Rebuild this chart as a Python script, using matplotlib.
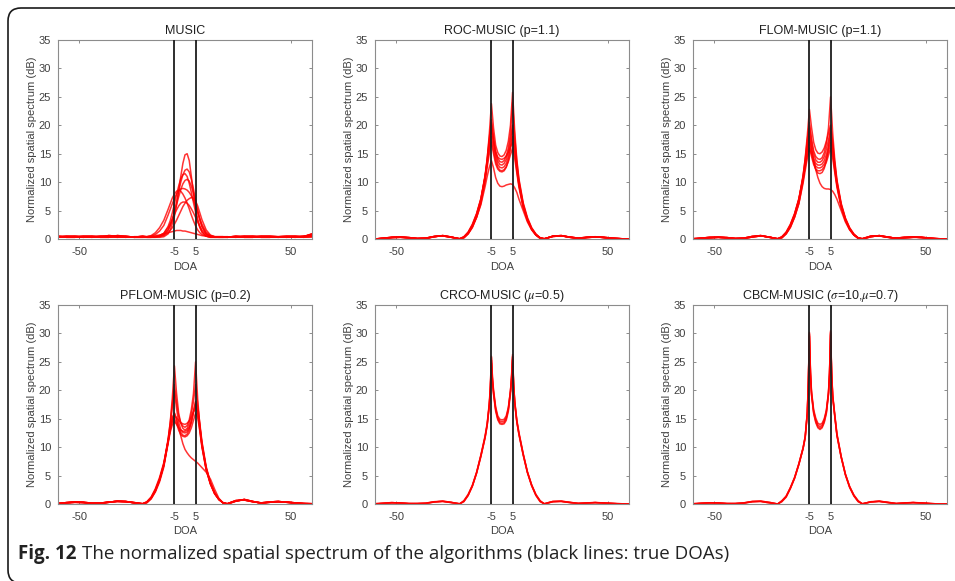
import matplotlib.pyplot as plt
from matplotlib.patches import FancyBboxPatch

# DOA grids (degrees)
doa_left = [-60, -56, -52, -48, -44, -40, -36, -32, -28, -24, -20]
doa_right = [20, 24, 28, 32, 36, 40, 44, 48, 52, 56, 60]
doa_mid = [-18, -16, -14, -12, -10, -8, -7, -6, -5, -4, -3, -2, -1, 0,
           1, 2, 3, 4, 5, 6, 7, 8, 10, 12, 14, 16, 18]
doa_mid_fine = [-18, -16, -14, -12, -10, -8, -7, -6, -5.5, -5, -4.5, -4, -3, -2, -1, 0,
                1, 2, 3, 4, 4.5, 5, 5.5, 6, 7, 8, 10, 12, 14, 16, 18]
true_doa = [-5, 5]

# MUSIC
music_left = [[0.4, 0.5, 0.4, 0.3, 0.4, 0.5, 0.4, 0.3, 0.4, 0.3, 0.3],
              [0.3, 0.4, 0.5, 0.4, 0.3, 0.4, 0.6, 0.5, 0.3, 0.4, 0.4],
              [0.5, 0.3, 0.3, 0.5, 0.5, 0.3, 0.3, 0.6, 0.5, 0.3, 0.5]]
music_right = [[0.3, 0.4, 0.5, 0.4, 0.3, 0.3, 0.4, 0.3, 0.4, 0.5, 0.7],
               [0.4, 0.3, 0.4, 0.5, 0.4, 0.4, 0.3, 0.4, 0.3, 0.4, 0.9],
               [0.3, 0.5, 0.3, 0.3, 0.5, 0.5, 0.4, 0.5, 0.5, 0.3, 0.4]]
music_mid = [
    [0.3, 0.3, 0.3, 0.3, 0.4, 0.9, 1.6, 2.7, 4.0, 6.0, 8.5, 11.0, 13.3, 14.8, 15.0, 13.8, 11.0, 8.0, 5.3, 3.5, 2.2, 1.3, 0.5, 0.3, 0.3, 0.3, 0.3],
    [0.4, 0.4, 0.4, 0.5, 0.7, 1.5, 2.3, 3.4, 4.8, 6.5, 8.3, 10.0, 11.3, 12.1, 12.3, 11.8, 10.5, 8.8, 6.8, 5.0, 3.4, 2.2, 0.9, 0.5, 0.4, 0.4, 0.4],
    [0.3, 0.3, 0.4, 0.6, 1.0, 2.2, 3.2, 4.6, 6.2, 7.8, 9.3, 10.6, 11.3, 11.5, 11.0, 9.8, 8.2, 6.4, 4.7, 3.2, 2.0, 1.2, 0.5, 0.3, 0.3, 0.3, 0.3],
    [0.4, 0.4, 0.4, 0.5, 0.8, 1.6, 2.4, 3.4, 4.6, 6.0, 7.4, 8.7, 9.7, 10.3, 10.5, 10.2, 9.3, 8.0, 6.4, 4.8, 3.4, 2.2, 0.9, 0.5, 0.4, 0.4, 0.4],
    [0.4, 0.5, 0.8, 1.4, 2.4, 4.2, 5.2, 6.2, 7.1, 7.9, 8.5, 8.8, 8.9, 8.8, 8.6, 8.2, 7.6, 6.8, 5.8, 4.7, 3.6, 2.6, 1.2, 0.6, 0.4, 0.4, 0.4],
    [0.4, 0.6, 1.1, 2.0, 3.3, 5.2, 6.2, 7.2, 7.9, 8.4, 8.6, 8.4, 7.9, 7.2, 6.3, 5.3, 4.2, 3.2, 2.3, 1.6, 1.1, 0.8, 0.5, 0.4, 0.4, 0.4, 0.4],
    [0.3, 0.3, 0.3, 0.4, 0.6, 1.1, 1.5, 2.0, 2.6, 3.3, 4.1, 4.9, 5.7, 6.3, 6.8, 7.1, 7.3, 7.2, 6.7, 5.8, 4.6, 3.4, 1.6, 0.7, 0.4, 0.3, 0.3],
    [0.3, 0.3, 0.4, 0.6, 1.0, 2.0, 2.7, 3.5, 4.3, 5.1, 5.8, 6.3, 6.5, 6.5, 6.3, 5.9, 5.3, 4.6, 3.8, 3.0, 2.2, 1.6, 0.8, 0.4, 0.3, 0.3, 0.3],
    [0.4, 0.5, 0.6, 0.7, 0.9, 1.1, 1.2, 1.3, 1.4, 1.5, 1.5, 1.5, 1.4, 1.4, 1.3, 1.2, 1.1, 1.0, 0.9, 0.8, 0.7, 0.6, 0.5, 0.4, 0.4, 0.4, 0.4],
]

# ROC-MUSIC
roc_left = [[0.0, 0.1, 0.25, 0.3, 0.2, 0.05, 0.1, 0.4, 0.6, 0.35, 0.0],
            [0.0, 0.15, 0.3, 0.35, 0.25, 0.1, 0.15, 0.45, 0.55, 0.3, 0.05]]
roc_right = [[0.0, 0.5, 0.6, 0.3, 0.1, 0.25, 0.35, 0.3, 0.15, 0.05, 0.0],
             [0.05, 0.45, 0.55, 0.35, 0.15, 0.3, 0.4, 0.25, 0.1, 0.05, 0.0]]
roc_mid = [
    [0.3, 1.0, 2.2, 4.0, 6.6, 10.8, 14.0, 18.5, 23.8, 19.5, 16.5, 15.2, 14.6, 14.5, 14.8, 15.6, 17.2, 20.0, 25.8, 19.0, 14.0, 10.6, 6.4, 3.8, 2.0, 0.9, 0.2],
    [0.4, 1.2, 2.5, 4.4, 7.0, 11.2, 14.2, 17.8, 21.0, 18.0, 15.5, 14.2, 13.6, 13.5, 13.8, 14.6, 16.0, 18.5, 24.0, 18.0, 13.6, 10.3, 6.2, 3.6, 1.9, 0.8, 0.2],
    [0.3, 1.0, 2.3, 4.2, 6.8, 11.0, 13.8, 17.2, 20.5, 17.4, 15.0, 13.7, 13.1, 13.0, 13.3, 14.0, 15.3, 17.4, 20.0, 16.8, 13.0, 10.0, 6.0, 3.5, 1.8, 0.8, 0.2],
    [0.2, 0.9, 2.1, 3.9, 6.4, 10.5, 13.4, 16.8, 20.0, 16.8, 14.4, 13.1, 12.6, 12.5, 12.7, 13.3, 14.5, 16.2, 18.0, 15.6, 12.4, 9.6, 5.8, 3.3, 1.7, 0.7, 0.1],
    [0.3, 1.1, 2.4, 4.3, 6.9, 10.9, 13.6, 16.7, 19.5, 17.0, 15.2, 14.4, 14.1, 14.0, 14.2, 14.6, 15.3, 16.2, 17.0, 15.0, 12.0, 9.4, 5.7, 3.4, 1.8, 0.8, 0.2],
    [0.4, 1.2, 2.6, 4.5, 7.1, 10.9, 13.2, 15.8, 18.0, 15.6, 13.7, 12.6, 12.1, 12.0, 12.2, 12.7, 13.6, 14.8, 16.0, 14.2, 11.6, 9.1, 5.5, 3.2, 1.7, 0.7, 0.2],
    [0.2, 0.9, 2.0, 3.8, 6.2, 10.0, 12.6, 15.0, 17.0, 15.0, 13.2, 12.3, 11.9, 11.8, 12.0, 12.6, 13.8, 15.8, 20.0, 16.4, 12.8, 9.8, 5.9, 3.4, 1.8, 0.7, 0.1],
    [0.3, 1.0, 2.2, 3.8, 6.0, 9.2, 11.0, 12.6, 13.8, 12.5, 10.8, 9.8, 9.3, 9.2, 9.3, 9.5, 9.6, 9.7, 9.6, 9.0, 8.2, 7.0, 5.0, 3.0, 1.6, 0.7, 0.2],
]

# FLOM-MUSIC
flom_left = [[0.0, 0.1, 0.2, 0.3, 0.25, 0.1, 0.1, 0.35, 0.55, 0.35, 0.0],
             [0.05, 0.15, 0.3, 0.3, 0.2, 0.05, 0.15, 0.45, 0.6, 0.3, 0.05]]
flom_right = [[0.0, 0.4, 0.6, 0.35, 0.1, 0.2, 0.3, 0.3, 0.15, 0.05, 0.0],
              [0.05, 0.5, 0.55, 0.3, 0.15, 0.3, 0.35, 0.25, 0.1, 0.0, 0.0]]
flom_mid = [
    [0.3, 1.0, 2.3, 4.2, 6.8, 11.0, 14.2, 18.2, 22.8, 19.6, 17.0, 15.7, 15.1, 15.0, 15.3, 16.0, 17.2, 18.6, 20.0, 17.0, 13.4, 10.2, 6.1, 3.6, 1.9, 0.8, 0.2],
    [0.4, 1.2, 2.5, 4.4, 7.0, 11.2, 14.0, 17.5, 20.5, 17.6, 15.5, 14.5, 14.1, 14.0, 14.3, 15.2, 16.8, 19.5, 25.0, 18.6, 13.8, 10.4, 6.3, 3.7, 2.0, 0.9, 0.2],
    [0.3, 1.0, 2.3, 4.2, 6.8, 10.9, 13.7, 17.0, 20.0, 17.2, 15.0, 13.9, 13.5, 13.5, 13.8, 14.5, 15.8, 17.4, 19.0, 16.2, 12.8, 9.9, 6.0, 3.5, 1.8, 0.8, 0.2],
    [0.2, 0.9, 2.1, 3.9, 6.4, 10.4, 13.0, 15.8, 18.0, 15.9, 14.2, 13.3, 13.0, 13.0, 13.2, 13.8, 14.8, 16.3, 18.0, 15.6, 12.4, 9.6, 5.8, 3.3, 1.7, 0.7, 0.1],
    [0.3, 1.1, 2.4, 4.3, 6.9, 10.7, 13.1, 15.4, 17.0, 15.2, 13.7, 12.8, 12.5, 12.5, 12.7, 13.2, 14.1, 15.4, 17.0, 15.0, 12.0, 9.4, 5.7, 3.4, 1.8, 0.8, 0.2],
    [0.4, 1.2, 2.6, 4.5, 7.1, 10.6, 12.6, 14.6, 16.0, 14.5, 13.1, 12.3, 12.0, 12.0, 12.2, 12.7, 13.5, 14.7, 16.0, 14.2, 11.6, 9.1, 5.5, 3.2, 1.7, 0.7, 0.2],
    [0.2, 0.9, 2.0, 3.8, 6.2, 10.2, 13.0, 16.0, 19.0, 16.0, 13.6, 12.2, 11.6, 11.5, 11.7, 12.4, 13.8, 16.0, 20.0, 16.4, 12.8, 9.8, 5.9, 3.4, 1.8, 0.7, 0.1],
    [0.3, 1.0, 2.2, 3.9, 6.2, 9.8, 12.0, 14.2, 16.0, 15.0, 13.6, 12.2, 10.8, 9.8, 9.2, 8.9, 8.8, 8.8, 8.7, 8.4, 7.8, 7.0, 5.0, 3.0, 1.6, 0.7, 0.2],
]

# PFLOM-MUSIC
pflom_left = [[0.1, 0.2, 0.3, 0.25, 0.1, 0.1, 0.3, 0.5, 0.45, 0.2, 0.0],
              [0.05, 0.25, 0.35, 0.3, 0.15, 0.15, 0.35, 0.45, 0.4, 0.25, 0.05]]
pflom_right = [[0.0, 0.5, 0.8, 0.45, 0.15, 0.3, 0.4, 0.35, 0.2, 0.1, 0.05],
               [0.05, 0.6, 0.7, 0.4, 0.2, 0.35, 0.45, 0.3, 0.15, 0.05, 0.0]]
pflom_mid = [
    [0.3, 1.0, 2.3, 4.2, 6.9, 11.2, 14.3, 18.6, 24.3, 19.5, 16.0, 14.2, 13.3, 13.0, 13.3, 14.2, 15.8, 18.0, 21.0, 17.6, 13.6, 10.4, 6.2, 3.7, 1.9, 0.8, 0.2],
    [0.4, 1.2, 2.5, 4.4, 7.1, 11.4, 14.2, 17.6, 21.0, 17.8, 15.5, 14.3, 13.7, 13.5, 13.8, 14.8, 16.6, 19.4, 25.0, 18.4, 13.8, 10.5, 6.3, 3.7, 2.0, 0.9, 0.2],
    [0.3, 1.0, 2.3, 4.2, 6.8, 11.0, 13.8, 17.0, 20.0, 16.8, 14.4, 13.1, 12.6, 12.5, 12.7, 13.3, 14.5, 16.2, 17.5, 16.4, 13.8, 10.8, 6.4, 3.7, 1.9, 0.8, 0.2],
    [0.2, 0.9, 2.1, 3.9, 6.5, 10.8, 13.2, 15.2, 16.0, 15.0, 13.6, 12.6, 12.1, 12.0, 12.3, 13.0, 14.3, 16.2, 18.0, 17.2, 14.2, 11.0, 6.6, 3.8, 1.9, 0.8, 0.2],
    [0.3, 1.1, 2.5, 4.4, 7.0, 11.0, 13.2, 14.8, 15.5, 15.2, 14.7, 14.3, 14.1, 14.0, 14.2, 14.6, 15.3, 16.2, 17.0, 16.0, 13.4, 10.4, 6.2, 3.6, 1.9, 0.8, 0.2],
    [0.4, 1.2, 2.7, 4.7, 7.3, 11.0, 13.0, 14.4, 15.0, 14.2, 13.0, 12.2, 11.9, 11.8, 12.0, 12.5, 13.4, 14.7, 16.0, 15.2, 12.8, 10.0, 6.0, 3.5, 1.8, 0.8, 0.2],
    [0.3, 1.0, 2.3, 4.2, 6.8, 10.6, 12.6, 13.9, 14.5, 14.0, 13.4, 13.0, 12.8, 12.8, 13.0, 13.6, 14.6, 16.2, 18.0, 16.0, 13.0, 10.1, 6.0, 3.5, 1.8, 0.8, 0.2],
    [0.3, 1.0, 2.4, 4.3, 6.9, 10.9, 13.0, 15.0, 16.0, 14.8, 13.4, 12.0, 10.6, 9.6, 9.0, 8.5, 8.1, 7.8, 7.5, 7.2, 6.8, 6.4, 5.6, 4.4, 2.6, 1.0, 0.2],
]

# CRCO-MUSIC
crco_left = [[0.0, 0.1, 0.2, 0.2, 0.1, 0.05, 0.1, 0.35, 0.5, 0.3, 0.0],
             [0.05, 0.15, 0.25, 0.15, 0.05, 0.1, 0.15, 0.4, 0.45, 0.25, 0.05]]
crco_right = [[0.0, 0.4, 0.5, 0.3, 0.1, 0.15, 0.25, 0.2, 0.1, 0.05, 0.0],
              [0.05, 0.45, 0.45, 0.25, 0.1, 0.2, 0.25, 0.15, 0.1, 0.0, 0.0]]
crco_mid = [
    [0.5, 1.6, 3.2, 5.5, 8.5, 11.8, 14.0, 17.5, 20.5, 25.8, 22.0, 19.8, 16.8, 15.2, 14.6, 14.5, 14.6, 15.2, 16.8, 19.8, 22.2, 26.0, 21.0, 18.0, 14.6, 12.4, 8.8, 5.6, 3.3, 1.6, 0.5],
    [0.4, 1.5, 3.1, 5.4, 8.3, 11.6, 13.8, 17.2, 20.2, 25.3, 21.6, 19.3, 16.3, 14.8, 14.1, 14.0, 14.1, 14.7, 16.3, 19.3, 21.8, 25.8, 20.6, 17.7, 14.4, 12.2, 8.6, 5.5, 3.2, 1.5, 0.4],
    [0.6, 1.7, 3.3, 5.6, 8.6, 12.0, 14.2, 17.8, 20.8, 26.0, 22.3, 20.1, 17.1, 15.5, 14.9, 14.8, 14.9, 15.5, 17.0, 19.9, 22.0, 25.4, 20.8, 18.2, 14.8, 12.6, 8.9, 5.7, 3.4, 1.7, 0.6],
    [0.5, 1.5, 3.2, 5.5, 8.4, 11.7, 13.9, 17.4, 20.1, 24.8, 21.5, 19.5, 16.6, 15.0, 14.3, 14.2, 14.3, 15.0, 16.6, 19.9, 22.5, 26.3, 21.2, 17.9, 14.5, 12.3, 8.7, 5.6, 3.3, 1.6, 0.5],
]

# CBCM-MUSIC
cbcm_left = [[0.0, 0.1, 0.2, 0.2, 0.1, 0.05, 0.15, 0.4, 0.5, 0.3, 0.0],
             [0.05, 0.15, 0.2, 0.15, 0.05, 0.1, 0.2, 0.45, 0.45, 0.2, 0.0]]
cbcm_right = [[0.0, 0.4, 0.45, 0.25, 0.05, 0.15, 0.25, 0.2, 0.1, 0.0, 0.0],
              [0.05, 0.35, 0.5, 0.3, 0.1, 0.2, 0.25, 0.15, 0.05, 0.0, 0.0]]
cbcm_mid = [
    [0.5, 1.3, 2.8, 4.6, 7.0, 9.8, 11.8, 16.0, 21.5, 30.0, 23.0, 19.5, 16.3, 14.8, 13.9, 13.6, 13.9, 14.8, 16.3, 19.5, 23.0, 30.3, 23.0, 19.0, 15.5, 12.2, 8.3, 5.2, 3.0, 1.5, 0.5],
    [0.4, 1.2, 2.7, 4.5, 6.9, 9.7, 11.6, 15.8, 21.2, 29.5, 22.6, 19.1, 15.9, 14.3, 13.4, 13.1, 13.4, 14.3, 15.9, 19.2, 22.6, 29.8, 22.7, 18.8, 15.3, 12.0, 8.2, 5.1, 2.9, 1.4, 0.4],
    [0.6, 1.4, 2.9, 4.7, 7.1, 9.9, 11.9, 16.2, 21.8, 30.2, 23.3, 19.8, 16.6, 15.1, 14.2, 14.0, 14.2, 15.0, 16.5, 19.7, 23.2, 30.5, 23.3, 19.2, 15.7, 12.4, 8.4, 5.3, 3.1, 1.6, 0.6],
    [0.5, 1.3, 2.8, 4.6, 7.0, 9.8, 11.7, 15.9, 21.4, 29.8, 22.8, 19.3, 16.1, 14.5, 13.6, 13.3, 13.6, 14.5, 16.1, 19.3, 22.9, 30.1, 22.9, 18.9, 15.4, 12.1, 8.3, 5.2, 3.0, 1.5, 0.5],
]

panels = [
    ('MUSIC', doa_mid, music_left, music_right, music_mid),
    ('ROC-MUSIC (p=1.1)', doa_mid, roc_left, roc_right, roc_mid),
    ('FLOM-MUSIC (p=1.1)', doa_mid, flom_left, flom_right, flom_mid),
    ('PFLOM-MUSIC (p=0.2)', doa_mid, pflom_left, pflom_right, pflom_mid),
    ('CRCO-MUSIC ($\\mu$=0.5)', doa_mid_fine, crco_left, crco_right, crco_mid),
    ('CBCM-MUSIC ($\\sigma$=10,$\\mu$=0.7)', doa_mid_fine, cbcm_left, cbcm_right, cbcm_mid),
]

plt.rcParams['font.family'] = ['Liberation Sans', 'DejaVu Sans']
plt.rcParams['mathtext.fontset'] = 'stix'
plt.rcParams['axes.unicode_minus'] = False

W, H = 955, 581
fig = plt.figure(figsize=(W / 100, H / 100), dpi=100)

col_x = [58, 375, 693]
row_bottom = [239, 504]
ax_w, ax_h = 254, 199
tick_col = '#8c8c8c'
text_col = '#404040'

for k, (title, mid_x, left_y, right_y, curves) in enumerate(panels):
    r, c = divmod(k, 3)
    ax = fig.add_axes([col_x[c] / W, 1 - row_bottom[r] / H, ax_w / W, ax_h / H])
    for i, curve in enumerate(curves):
        x = doa_left + mid_x + doa_right
        y = left_y[i % len(left_y)] + curve + right_y[i % len(right_y)]
        ax.plot(x, y, color='#ff0000', lw=1.1, alpha=0.8)
    for d in true_doa:
        ax.axvline(d, color='#1e1e1e', lw=1.3, zorder=3)
    ax.set_xlim(-60, 60)
    ax.set_ylim(0, 35)
    ax.set_xticks([-50, -5, 5, 50])
    ax.set_yticks(range(0, 36, 5))
    ax.tick_params(direction='in', length=2.5, width=0.7, top=True, right=True,
                   color=tick_col, labelcolor=text_col, labelsize=8)
    ax.tick_params(axis='x', pad=6)
    ax.tick_params(axis='y', pad=5)
    for s in ax.spines.values():
        s.set_color(tick_col)
        s.set_linewidth(0.8)
    ax.set_title(title, fontsize=9, color='#202020', pad=4)
    ax.set_xlabel('DOA', fontsize=8, color=text_col, labelpad=3)
    ax.set_ylabel('Normalized spatial spectrum (dB)', fontsize=8, color=text_col, labelpad=1)

# rounded frame around the figure
frame = FancyBboxPatch((0.08, -0.02), 10.0, 5.75, boxstyle='round,pad=0,rounding_size=0.13',
                       transform=fig.dpi_scale_trans, fill=False, ec='#1a1a1a', lw=1.2,
                       clip_on=False)
fig.patches.append(frame)

cap_y = 1 - 559 / H
t1 = fig.text(18 / W, cap_y, 'Fig. 12', fontsize=13.5, fontweight='bold',
              family='Open Sans', color='#222222')
fig.canvas.draw()
bb = t1.get_window_extent()
fig.text((bb.x1 + 5) / W, cap_y,
         'The normalized spatial spectrum of the algorithms (black lines: true DOAs)',
         fontsize=13.5, family='Open Sans', color='#222222')

fig.savefig('out.png', dpi=100)
